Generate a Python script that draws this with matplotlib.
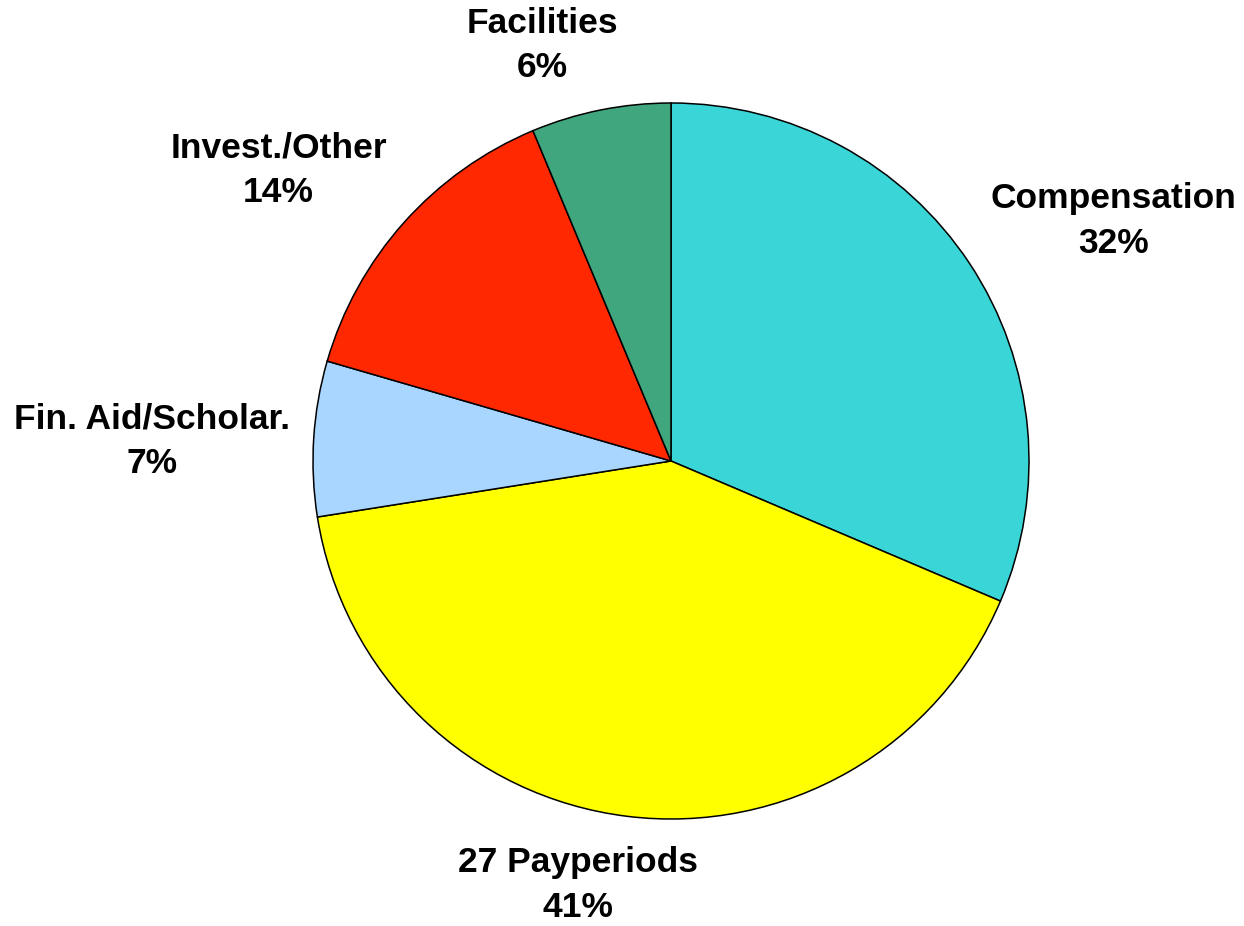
import numpy as np
import matplotlib
matplotlib.use('Agg')
import matplotlib.pyplot as plt

categories = ['Compensation', '27 Payperiods', 'Fin. Aid/Scholar.', 'Invest./Other', 'Facilities']
values = [31.4, 41.1, 7.0, 14.2, 6.3]
pct_labels = ['32%', '41%', '7%', '14%', '6%']
colors = ['#3AD5D6', '#FFFF00', '#A9D6FF', '#FF2800', '#3FA67E']

# label placement (radius in pie units, angle shift in degrees)
label_r = [1.405, 1.213, 1.451, 1.365, 1.215]
label_shift = [-5.0, -5.4, 1.4, 5.2, 5.9]

fig = plt.figure(figsize=(12.44, 9.26), dpi=100)
ax = fig.add_axes([0, 0, 1, 1])

wedges, _ = ax.pie(values, colors=colors, startangle=90, counterclock=False,
                   wedgeprops=dict(edgecolor='black', linewidth=1.1))

for w, name, pct, r, sh in zip(wedges, categories, pct_labels, label_r, label_shift):
    mid = np.deg2rad((w.theta1 + w.theta2) / 2 + sh)
    ax.text(r * np.cos(mid), r * np.sin(mid), name + '\n' + pct,
            ha='center', va='center', fontsize=25.5, fontweight='bold',
            family=['Liberation Sans', 'DejaVu Sans'], linespacing=1.45)

R = 358.0
ax.set_xlim(-671 / R, (1244 - 671) / R)
ax.set_ylim(-(926 - 461) / R, 461 / R)
ax.set_aspect('equal')
ax.axis('off')

fig.savefig('out.png', dpi=100)
